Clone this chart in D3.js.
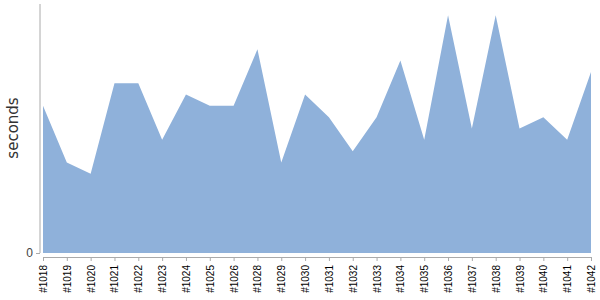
<!DOCTYPE html>
<html>
<head>
<meta charset="utf-8">
<script src="https://cdn.jsdelivr.net/npm/d3@7"></script>
<style>
  body { margin: 0; background: #fff; }
  svg { display: block; font-family: "DejaVu Sans", sans-serif; }
</style>
</head>
<body>
<svg id="chart"></svg>
<script>
var builds = ["#1018", "#1019", "#1020", "#1021", "#1022", "#1023", "#1024", "#1025", "#1026", "#1028",
              "#1029", "#1030", "#1031", "#1032", "#1033", "#1034", "#1035", "#1036", "#1037", "#1038",
              "#1039", "#1040", "#1041", "#1042"];
var seconds = [13, 8, 7, 15, 15, 10, 14, 13, 13, 18, 8, 14, 12, 9, 12, 17, 10, 21, 11, 21, 11, 12, 10, 16];
var yTicks = [0];

var width = 600,
    height = 300,
    plotLeft = 43,
    plotRight = 591,
    plotTop = 4,
    plotBottom = 253;

var svg = d3.select("#chart").attr("width", width).attr("height", height);

var x = d3.scalePoint().domain(builds).range([plotLeft, plotRight]),
    y = d3.scaleLinear().domain([0, d3.max(seconds) + 1]).range([plotBottom, plotTop]);

var data = builds.map(function (b, i) { return {build: b, value: seconds[i]}; });

var area = d3.area()
    .x(function (d) { return x(d.build); })
    .y0(y(0))
    .y1(function (d) { return y(d.value); });

svg.append("path")
    .datum(data)
    .attr("d", area)
    .style("fill", "#8fb1da");

// y axis
var yAxis = svg.append("g")
    .attr("transform", "translate(40,0)")
    .call(d3.axisLeft(y).tickValues(yTicks).tickSize(4).tickPadding(3));
yAxis.select(".domain").attr("d", "M0," + plotTop + "V" + plotBottom).attr("stroke", "#aaa");
yAxis.selectAll(".tick line").attr("stroke", "#aaa");
yAxis.selectAll(".tick text").attr("fill", "#444").style("font-size", "12px");

svg.append("text")
    .attr("transform", "translate(18,128) rotate(-90)")
    .attr("text-anchor", "middle")
    .style("font-size", "15px")
    .attr("fill", "#333")
    .text("seconds");

// x axis
var xAxis = svg.append("g")
    .attr("transform", "translate(0,257)")
    .call(d3.axisBottom(x).tickSize(4).tickSizeOuter(0).tickPadding(2));
xAxis.select(".domain").attr("stroke", "#aaa");
xAxis.selectAll(".tick line").attr("stroke", "#aaa");
xAxis.selectAll(".tick text")
    .attr("transform", "rotate(-90)")
    .attr("text-anchor", "end")
    .attr("x", -8)
    .attr("y", 0)
    .attr("dy", "0.35em")
    .attr("fill", "#000")
    .style("font-size", "10px");
</script>
</body>
</html>
